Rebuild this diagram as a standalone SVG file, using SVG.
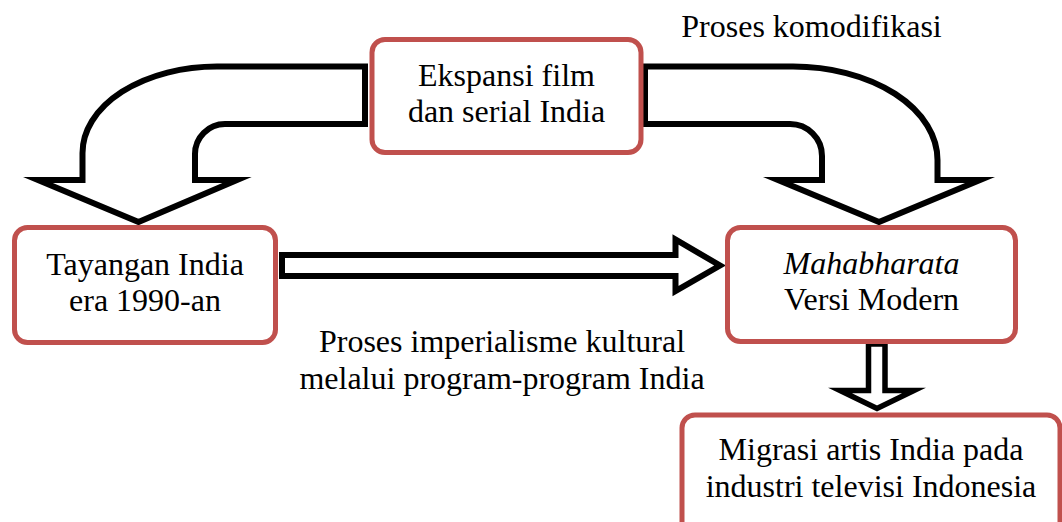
<svg xmlns="http://www.w3.org/2000/svg" width="1062" height="522" viewBox="0 0 1062 522">
<style>
.box{fill:#ffffff;stroke:#C0504D;stroke-width:5}
.arr{fill:#ffffff;stroke:#000000;stroke-width:6;stroke-linejoin:miter;stroke-miterlimit:10}
text{font-family:"Liberation Serif","Times New Roman",serif;font-size:32px;fill:#000000;text-anchor:middle}
</style>
<rect width="1062" height="522" fill="#ffffff"/>
<g id="connectors">
<path class="arr" d="M365,66.5 L217,66.5 A134.5,86.5 0 0 0 82.5,153 L82.5,180 L38,180 L138.5,222 L237,180 L195,180 L195,154 A30,30 0 0 1 225,124 L365,124 Z"/>
<path class="arr" d="M645,66.5 L793,66.5 A144.5,93.5 0 0 1 937.5,160 L937.5,180 L980,180 L879,222 L778,180 L822,180 L822,156 A32,32 0 0 0 790,124 L645,124 Z"/>
<path class="arr" d="M282,255 L675.5,255 L675.5,239.5 L720,265.5 L675.5,291 L675.5,276 L282,276 Z"/>
<path class="arr" style="stroke-width:5.5" d="M868.5,344 L885,344 L885,390.5 L914,390.5 L877,408.5 L840,390.5 L868.5,390.5 Z"/>
</g>
<g id="node-ekspansi">
<rect class="box" x="372" y="39.5" width="269" height="113" rx="13"/>
<text x="506.5" y="86">Ekspansi film</text>
<text x="506.5" y="122">dan serial India</text>
</g>
<g id="node-tayangan">
<rect class="box" x="14.5" y="227.5" width="261" height="115" rx="13"/>
<text x="145" y="275">Tayangan India</text>
<text x="145" y="311">era 1990-an</text>
</g>
<g id="node-mahabharata">
<rect class="box" x="727.5" y="227.5" width="288" height="114" rx="13"/>
<text x="871.5" y="274" font-style="italic">Mahabharata</text>
<text x="871.5" y="310">Versi Modern</text>
</g>
<g id="node-migrasi">
<rect class="box" x="682" y="415" width="378" height="130" rx="13"/>
<text x="871" y="460">Migrasi artis India pada</text>
<text x="871" y="497">industri televisi Indonesia</text>
</g>
<g id="labels">
<text x="811.5" y="37">Proses komodifikasi</text>
<text x="502" y="352">Proses imperialisme kultural</text>
<text x="502" y="389">melalui program-program India</text>
</g>
</svg>
